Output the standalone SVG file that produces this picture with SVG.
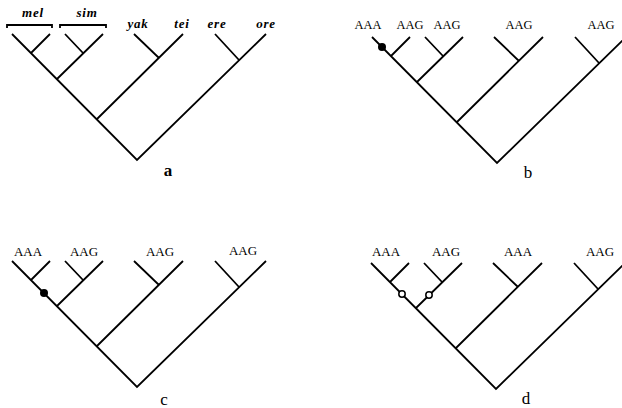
<svg xmlns="http://www.w3.org/2000/svg" xmlns:xlink="http://www.w3.org/1999/xlink" width="622" height="408" viewBox="0 0 622 408">
<style>
.edge{fill:none;stroke:#000;stroke-width:1.8;stroke-linecap:butt;stroke-linejoin:miter}
.tx{font-family:"Liberation Serif","Times New Roman",serif;fill:#000;text-anchor:middle}
.sp{font-style:italic;font-weight:bold;font-size:13px;letter-spacing:0.8px}
.seq{font-size:12.5px}
.seq2{font-size:13px}
.pl{font-size:17px}
.dot{fill:#000}
.odot{fill:#fff;stroke:#000;stroke-width:1.5}
</style>
<defs>
<path id="tree" class="edge" d="M12,34 L137,160 L266,34 M31,53 L50,34 M57,79 L103,34 M83,53 L65,34 M97,119 L183,34 M159,58 L134,34 M239,60 L215,34"/>
</defs>
<g id="connectors">
<use xlink:href="#tree" href="#tree"/>
<use xlink:href="#tree" href="#tree" transform="translate(360,3)"/>
<use xlink:href="#tree" href="#tree" transform="translate(0,227)"/>
<use xlink:href="#tree" href="#tree" transform="translate(359,229)"/>
<path class="edge" d="M7,28 V25 H52 V28 M60,28 V25 H106 V28"/>
</g>
<g id="panel-a">
<text class="tx sp" x="33" y="17">mel</text>
<text class="tx sp" x="87" y="17">sim</text>
<text class="tx sp" x="138" y="28">yak</text>
<text class="tx sp" x="182" y="28">tei</text>
<text class="tx sp" x="217" y="28">ere</text>
<text class="tx sp" x="266" y="28">ore</text>
<text class="tx pl" x="168" y="176" font-weight="bold">a</text>
</g>
<g id="panel-b">
<text class="tx seq" x="368" y="29">AAA</text>
<text class="tx seq" x="410" y="29">AAG</text>
<text class="tx seq" x="447" y="29">AAG</text>
<text class="tx seq" x="519" y="29">AAG</text>
<text class="tx seq" x="601" y="29">AAG</text>
<circle class="dot" cx="382" cy="47" r="4"/>
<text class="tx pl" x="528" y="178">b</text>
</g>
<g id="panel-c">
<text class="tx seq2" x="28" y="256">AAA</text>
<text class="tx seq2" x="84" y="256">AAG</text>
<text class="tx seq2" x="160" y="256">AAG</text>
<text class="tx seq2" x="243" y="255">AAG</text>
<circle class="dot" cx="44" cy="293" r="4"/>
<text class="tx pl" x="164" y="405">c</text>
</g>
<g id="panel-d">
<text class="tx seq2" x="386" y="256">AAA</text>
<text class="tx seq2" x="446" y="256">AAG</text>
<text class="tx seq2" x="518" y="256">AAA</text>
<text class="tx seq2" x="600" y="256">AAG</text>
<circle class="odot" cx="402" cy="294" r="3.2"/>
<circle class="odot" cx="429" cy="295" r="3.2"/>
<text class="tx pl" x="526" y="404">d</text>
</g>
</svg>
